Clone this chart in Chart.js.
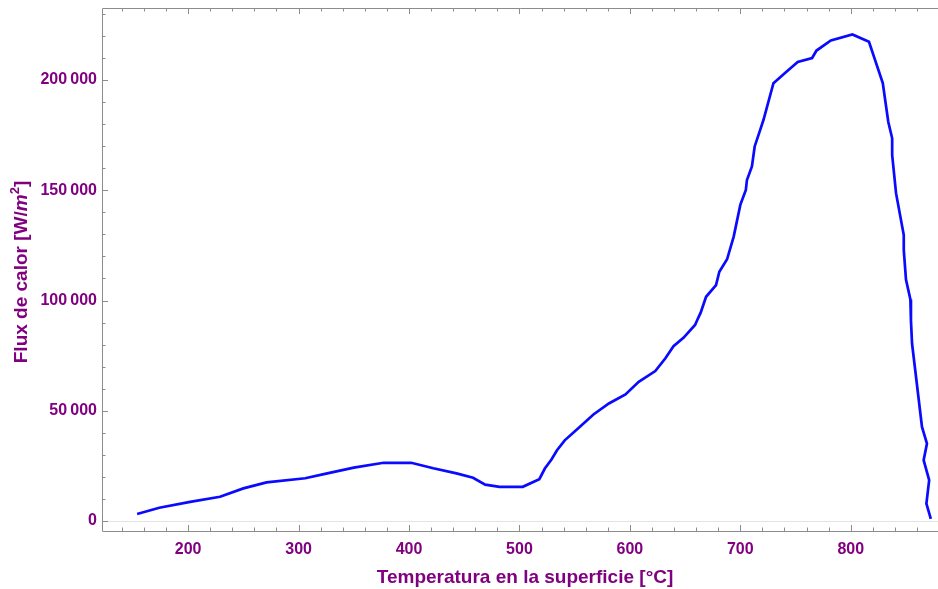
<!DOCTYPE html>
<html>
<head>
<meta charset="utf-8">
<script src="https://cdn.jsdelivr.net/npm/chart.js@4"></script>
<style>
  html, body { margin: 0; padding: 0; background: #fff; }
  #chart { display: block; }
</style>
</head>
<body>
<canvas id="chart" width="938" height="589"></canvas>
<script>
// Surface temperature [°C] and heat flux [W/m^2] along the boiling curve
const temps = [
  153.8, 173.9, 201.8, 228.9, 250, 271, 306, 326, 350, 377,
  402, 422, 443, 458, 469, 482, 503, 518, 523, 529,
  534, 541, 553, 567, 581, 596, 608, 623, 632, 639.5,
  648.5, 659, 661, 664, 669, 678, 681, 688, 694, 700,
  705, 706, 710.5, 713, 718, 721, 730, 742, 752, 765,
  769, 782, 801.5, 816.5, 829, 834, 837.5, 837.5, 841, 848,
  848, 850, 854, 854.5, 855.5, 864.5, 869, 866, 871, 868.5,
  872.5
];
const flux = [
  3200, 6000, 8700, 11000, 14800, 17500, 19400, 21600, 24200, 26400,
  26400, 23900, 21600, 19600, 16500, 15500, 15500, 19000, 23800, 27900,
  32100, 36600, 42000, 48300, 53300, 57400, 63100, 68000, 73700, 79300,
  83100, 88900, 91200, 94400, 101700, 107000, 113100, 118700, 129000, 143400,
  150200, 154700, 160800, 169900, 177400, 182000, 198600, 203900, 208200, 210000,
  213400, 218000, 220700, 217400, 198600, 181000, 173600, 166000, 148700, 129700,
  123000, 109500, 100500, 91000, 80500, 42700, 35100, 27600, 18500, 7900,
  1000
];
const xTicks = [200, 300, 400, 500, 600, 700, 800];
const yTicks = [0, 50000, 100000, 150000, 200000];

const purple = '#800080';
const frameColor = '#8c8c8c';
const fam = '"Liberation Sans", Arial, sans-serif';
const labelFont = { family: fam, size: 16, weight: 'bold' };

const points = temps.map((t, i) => ({ x: t, y: flux[i] }));

// frame with inward ticks, zero line and axis titles
const framePlugin = {
  id: 'frame',
  beforeDatasetsDraw(chart) {
    const { ctx, chartArea: a, scales: { x, y } } = chart;
    ctx.save();
    // light zero line
    const y0 = Math.round(y.getPixelForValue(0)) + 0.5;
    ctx.strokeStyle = '#e3e3e3';
    ctx.lineWidth = 1;
    ctx.beginPath();
    ctx.moveTo(a.left, y0);
    ctx.lineTo(a.right, y0);
    ctx.stroke();

    ctx.strokeStyle = frameColor;
    ctx.beginPath();
    ctx.moveTo(a.left + 0.5, a.top + 0.5);
    ctx.lineTo(a.left + 0.5, a.bottom + 0.5);
    ctx.lineTo(a.right, a.bottom + 0.5);
    ctx.moveTo(a.left + 0.5, a.top + 0.5);
    ctx.lineTo(a.right, a.top + 0.5);

    for (let v = 140; v <= 880; v += 20) {
      const px = Math.round(x.getPixelForValue(v)) + 0.5;
      if (px < a.left || px > a.right) continue;
      const len = v % 100 === 0 ? 6 : 3.5;
      ctx.moveTo(px, a.bottom);
      ctx.lineTo(px, a.bottom - len);
      ctx.moveTo(px, a.top);
      ctx.lineTo(px, a.top + len);
    }
    for (let v = 0; v <= 230000; v += 10000) {
      const py = Math.round(y.getPixelForValue(v)) + 0.5;
      const len = v % 50000 === 0 ? 6 : 3.5;
      ctx.moveTo(a.left, py);
      ctx.lineTo(a.left + len, py);
    }
    ctx.stroke();
    ctx.restore();
  },
  afterDraw(chart) {
    const { ctx, chartArea: a } = chart;
    ctx.save();
    ctx.fillStyle = purple;
    ctx.textBaseline = 'middle';

    // x title
    ctx.font = 'bold 19px ' + fam;
    ctx.textAlign = 'center';
    ctx.fillText('Temperatura en la superficie [°C]', 525, 578);

    // y title, rotated, with italic m and superscript 2
    const parts = [
      { t: 'Flux de calor [W/', f: 'bold 19px ' + fam, dy: 0 },
      { t: 'm', f: 'italic bold 19px ' + fam, dy: 0 },
      { t: '2', f: 'bold 13px ' + fam, dy: -7 },
      { t: ']', f: 'bold 19px ' + fam, dy: 0 }
    ];
    let total = 0;
    parts.forEach(p => { ctx.font = p.f; p.w = ctx.measureText(p.t).width; total += p.w; });
    ctx.translate(22, 272);
    ctx.rotate(-Math.PI / 2);
    ctx.textAlign = 'left';
    let cx = -total / 2;
    parts.forEach(p => {
      ctx.font = p.f;
      ctx.fillText(p.t, cx, p.dy);
      cx += p.w;
    });
    ctx.restore();
  }
};

const chart = new Chart(document.getElementById('chart'), {
  type: 'line',
  data: {
    datasets: [{
      data: points,
      borderColor: '#0a0aff',
      borderWidth: 2.7,
      pointRadius: 0,
      fill: false,
      tension: 0
    }]
  },
  options: {
    responsive: false,
    animation: false,
    layout: { padding: { top: 8, right: 0, left: 0, bottom: 0 } },
    plugins: { legend: { display: false }, tooltip: { enabled: false } },
    scales: {
      x: {
        type: 'linear',
        min: 122,
        max: 879,
        grid: { display: false, drawTicks: false },
        border: { display: false },
        afterBuildTicks: scale => { scale.ticks = xTicks.map(v => ({ value: v })); },
        afterFit: scale => { scale.height = 58; scale.paddingLeft = 0; scale.paddingRight = 0; },
        ticks: { color: purple, font: labelFont, padding: 9, maxRotation: 0 }
      },
      y: {
        type: 'linear',
        min: -4540,
        max: 232700,
        grid: { display: false, drawTicks: false },
        border: { display: false },
        afterBuildTicks: scale => { scale.ticks = yTicks.map(v => ({ value: v })); },
        afterFit: scale => { scale.width = 102; scale.paddingTop = 0; scale.paddingBottom = 0; },
        ticks: {
          color: purple,
          font: labelFont,
          padding: 5,
          callback: v => String(v).replace(/\B(?=(\d{3})+(?!\d))/g, '\u2009')
        }
      }
    }
  },
  plugins: [framePlugin]
});
</script>
</body>
</html>
